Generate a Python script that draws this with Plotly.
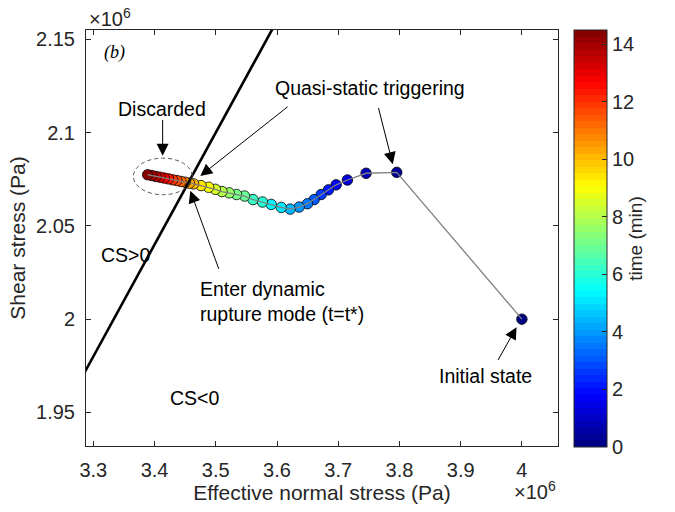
import plotly.graph_objects as go

# Stress path (Pa) and elapsed time (min) of each state
normal_stress = [
    4.0000e6, 3.7956e6, 3.7455e6, 3.7150e6, 3.6966e6, 3.6840e6, 3.6721e6,
    3.6607e6, 3.6498e6, 3.6362e6, 3.6215e6, 3.6069e6, 3.5905e6, 3.5763e6,
    3.5607e6, 3.5470e6, 3.5339e6, 3.5220e6, 3.5101e6, 3.4992e6, 3.4883e6,
    3.4759e6, 3.4638e6, 3.4570e6, 3.4501e6, 3.4433e6, 3.4365e6, 3.4296e6,
    3.4228e6, 3.4160e6, 3.4091e6, 3.4023e6, 3.3955e6, 3.3887e6,
]
shear_stress = [
    2.0000e6, 2.0787e6, 2.0782e6, 2.0746e6, 2.0720e6, 2.0693e6, 2.0668e6,
    2.0641e6, 2.0619e6, 2.0601e6, 2.0590e6, 2.0599e6, 2.0615e6, 2.0628e6,
    2.0641e6, 2.0660e6, 2.0668e6, 2.0677e6, 2.0684e6, 2.0696e6, 2.0707e6,
    2.0716e6, 2.0725e6, 2.0729e6, 2.0734e6, 2.0738e6, 2.0743e6, 2.0747e6,
    2.0752e6, 2.0756e6, 2.0761e6, 2.0765e6, 2.0770e6, 2.0774e6,
]
time_min = [
    0.0, 0.4, 0.9, 1.3, 1.8, 2.2, 2.6, 3.0, 3.5, 4.0, 4.5, 5.0, 5.4, 5.9,
    6.3, 6.8, 7.2, 7.7, 8.1, 8.6, 9.0, 9.5, 10.0, 10.4, 10.8, 11.2, 11.6,
    12.0, 12.4, 12.8, 13.2, 13.6, 14.0, 14.5,
]

# Coulomb failure line (CS = 0), friction 0.6, no cohesion
failure_sigma = [3.20e6, 3.70e6]
failure_tau = [1.92e6, 2.22e6]

x_ticks = [3.3, 3.4, 3.5, 3.6, 3.7, 3.8, 3.9, 4.0]
y_ticks = [1.95, 2.0, 2.05, 2.1, 2.15]
cbar_ticks = [0, 2, 4, 6, 8, 10, 12, 14]

SCALE = 1e6
FONT = "Liberation Sans, Arial, sans-serif"
AXIS_COLOR = "#262626"
TICK_SIZE = 20


def jet(v):
    clip = lambda a: max(0.0, min(1.0, a))
    r = clip(1.5 - abs(4 * v - 3))
    g = clip(1.5 - abs(4 * v - 2))
    b = clip(1.5 - abs(4 * v - 1))
    return f"rgb({round(r*255)},{round(g*255)},{round(b*255)})"


# 64-level banded jet colormap
N_LEVELS = 64
jet_scale = []
for i in range(N_LEVELS):
    c = jet((i + 0.5) / N_LEVELS)
    jet_scale.append([i / N_LEVELS, c])
    jet_scale.append([(i + 1) / N_LEVELS, c])

xs = [v / SCALE for v in normal_stress]
ys = [v / SCALE for v in shear_stress]

fig = go.Figure()

fig.add_trace(go.Scatter(
    x=xs, y=ys, mode="markers",
    marker=dict(
        size=10.5, color=time_min, colorscale=jet_scale, cmin=0, cmax=14.5,
        line=dict(color="black", width=0.8),
        colorbar=dict(
            x=1.034, xanchor="left", y=1.0, yanchor="top",
            xpad=0, ypad=0,
            lenmode="pixels", len=417, thickness=33,
            outlinecolor=AXIS_COLOR, outlinewidth=1,
            tickvals=cbar_ticks, ticks="inside", ticklen=5,
            tickcolor=AXIS_COLOR,
            tickfont=dict(family=FONT, size=TICK_SIZE, color=AXIS_COLOR),
            title=dict(text="time (min)", side="right",
                       font=dict(family=FONT, size=19, color=AXIS_COLOR)),
        ),
    ),
    showlegend=False, hoverinfo="skip",
))

fig.add_trace(go.Scatter(
    x=xs, y=ys, mode="lines",
    line=dict(color="#7f7f7f", width=1.3),
    showlegend=False, hoverinfo="skip",
))

fig.add_trace(go.Scatter(
    x=[v / SCALE for v in failure_sigma], y=[v / SCALE for v in failure_tau],
    mode="lines", line=dict(color="black", width=2.6),
    showlegend=False, hoverinfo="skip",
))

# Dashed ellipse around the discarded states
fig.add_shape(type="circle", xref="x", yref="y",
              x0=3.3654, x1=3.4616, y0=2.0667, y1=2.0863,
              line=dict(color="#555555", width=1, dash="4px,3px"))

txt_font = dict(family=FONT, size=19.5, color="black")

labels = [
    ("Discarded", 3.4122, 2.1129),
    ("Quasi-static triggering", 3.7520, 2.1241),
    ("CS>0", 3.3524, 2.0342),
    ("Initial state", 3.9413, 1.9693),
    ("CS<0", 3.4649, 1.9576),
]
for text, x, y in labels:
    fig.add_annotation(x=x, y=y, xref="x", yref="y", text=text,
                       showarrow=False, font=txt_font)

fig.add_annotation(x=3.4715, y=2.0097, xref="x", yref="y",
                   text="Enter dynamic<br>rupture mode (t=t*)",
                   xanchor="left", align="left", showarrow=False,
                   font=txt_font)

fig.add_annotation(x=3.3344, y=2.1432, xref="x", yref="y", text="<i>(b)</i>",
                   showarrow=False,
                   font=dict(family="Liberation Serif, Times New Roman, serif",
                             size=18, color="black"))

# Arrows: (tail x, tail y, tip x, tip y)
arrows = [
    (3.4132, 2.1076, 3.4132, 2.0876),
    (3.6199, 2.1145, 3.4747, 2.0768),
    (3.7651, 2.1140, 3.7891, 2.0831),
    (3.5057, 2.0262, 3.4584, 2.0688),
    (3.9597, 1.9773, 3.9913, 1.9957),
]
for tx, ty, hx, hy in arrows:
    fig.add_annotation(x=hx, y=hy, ax=tx, ay=ty, xref="x", yref="y",
                       axref="x", ayref="y", text="", showarrow=True,
                       arrowhead=2, arrowsize=2.4, arrowwidth=1,
                       arrowcolor="black")

# Axis exponent labels
exp_font = dict(family=FONT, size=20, color=AXIS_COLOR)
fig.add_annotation(x=0.002, y=0.996, xref="paper", yref="paper",
                   text="\u00d710<sup>6</sup>", xanchor="left", yanchor="bottom",
                   showarrow=False, font=exp_font)
fig.add_annotation(x=1.0, y=-0.142, xref="paper", yref="paper",
                   text="\u00d710<sup>6</sup>", xanchor="right", yanchor="bottom",
                   showarrow=False, font=exp_font)

axis_common = dict(
    showline=True, linecolor=AXIS_COLOR, linewidth=1, mirror="allticks",
    ticks="inside", ticklen=5, tickcolor=AXIS_COLOR, showgrid=False,
    zeroline=False, tickfont=dict(family=FONT, size=TICK_SIZE, color=AXIS_COLOR),
)

fig.update_xaxes(range=[3.288, 4.059], tickvals=x_ticks, ticklabelstandoff=6,
                 title=dict(text="Effective normal stress (Pa)", standoff=4,
                            font=dict(family=FONT, size=21, color=AXIS_COLOR)),
                 **axis_common)
fig.update_yaxes(range=[1.932, 2.155], tickvals=y_ticks, ticklabelstandoff=6,
                 title=dict(text="Shear stress (Pa)", standoff=4,
                            font=dict(family=FONT, size=21, color=AXIS_COLOR)),
                 **axis_common)

fig.update_layout(
    width=675, height=512,
    margin=dict(l=86, r=117, t=30, b=63),
    paper_bgcolor="white", plot_bgcolor="white",
)

fig.write_html("out.html")
